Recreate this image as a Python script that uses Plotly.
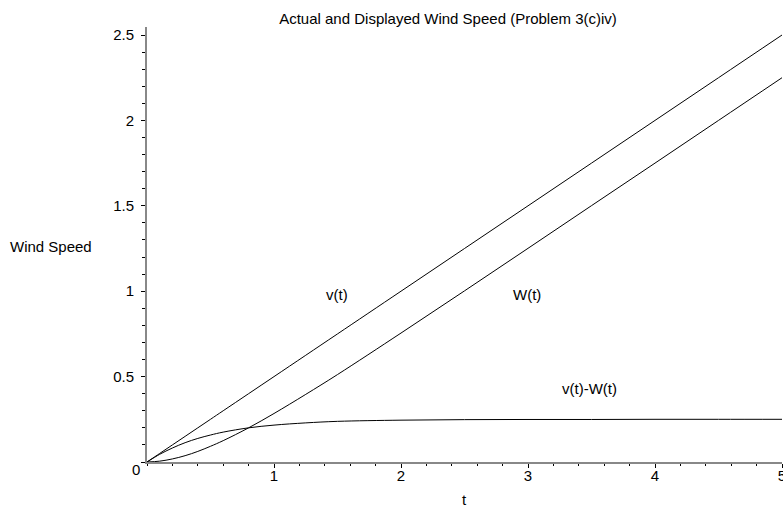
import plotly.graph_objects as go

t_vals = [0, 0.1, 0.2, 0.3, 0.4, 0.5, 0.6, 0.8, 1.0, 1.25, 1.5, 2.0, 2.5, 3.0, 3.5, 4.0, 4.5, 5.0]
v_vals = [0, 0.05, 0.1, 0.15, 0.2, 0.25, 0.3, 0.4, 0.5, 0.625, 0.75, 1.0, 1.25, 1.5, 1.75, 2.0, 2.25, 2.5]
w_vals = [0, 0.005, 0.018, 0.037, 0.062, 0.092, 0.125, 0.2, 0.284, 0.396, 0.512, 0.755, 1.002, 1.251, 1.501, 1.75, 2.0, 2.25]
d_vals = [0, 0.045, 0.082, 0.113, 0.138, 0.158, 0.175, 0.2, 0.216, 0.229, 0.238, 0.245, 0.248, 0.249, 0.249, 0.25, 0.25, 0.25]

x_ticks = [1, 2, 3, 4, 5]
y_ticks = [0, 0.5, 1, 1.5, 2, 2.5]
y_tick_labels = ["", "0.5", "1", "1.5", "2", "2.5"]

labels = [("v(t)", 1.496, 0.981), ("W(t)", 2.996, 0.981), ("v(t)-W(t)", 3.486, 0.433)]

FONT = "Liberation Sans, Arial, sans-serif"
L, R, T, B = 147, 1, 27, 46
W, H = 783, 508
PW, PH = W - L - R, H - T - B

def px(x):
    return (x - L) / PW

def py(y):
    return (H - B - y) / PH

fig = go.Figure()
for ys in (v_vals, w_vals, d_vals):
    fig.add_trace(go.Scatter(x=t_vals, y=ys, mode="lines",
                             line=dict(color="black", width=1, shape="spline"),
                             showlegend=False, hoverinfo="skip", cliponaxis=False))

for txt, x, y in labels:
    fig.add_annotation(x=x, y=y, text=txt, showarrow=False,
                       xanchor="center", yanchor="middle",
                       font=dict(family=FONT, size=15, color="black"))

fig.update_layout(
    width=W, height=H,
    margin=dict(l=L, r=R, t=T, b=B),
    paper_bgcolor="white", plot_bgcolor="white",
    font=dict(family=FONT, size=15, color="black"),
    title=dict(text="Actual and Displayed Wind Speed (Problem 3(c)iv)",
               x=448 / W, xanchor="center", y=1 - 19 / H, yanchor="middle",
               font=dict(size=15, color="black")),
    xaxis=dict(range=[0, 5], showgrid=False, zeroline=False, showline=True,
               automargin=False,
               linecolor="#888888", linewidth=2,
               tickvals=x_ticks, ticks="outside", ticklen=4, tickcolor="black",
               tickfont=dict(size=15), ticklabelstandoff=-5,
               ticklabeloverflow="allow",
               minor=dict(dtick=0.2, tick0=0, ticks="outside", ticklen=2, tickcolor="black")),
    yaxis=dict(range=[0, 2.547], showgrid=False, zeroline=False, showline=True,
               automargin=False,
               linecolor="#888888", linewidth=2,
               tickvals=y_ticks, ticktext=y_tick_labels,
               ticks="outside", ticklen=4, tickcolor="black",
               tickfont=dict(size=15), ticklabelstandoff=4,
               minor=dict(dtick=0.1, tick0=0, ticks="outside", ticklen=3, tickcolor="black")),
)

for txt, x, y in [("Wind Speed", 51, 246.5), ("t", 464, 499), ("0", 135.5, 469)]:
    fig.add_annotation(xref="paper", yref="paper", x=px(x), y=py(y), text=txt,
                       xanchor="center", yanchor="middle", showarrow=False,
                       font=dict(family=FONT, size=15, color="black"))

fig.write_html("out.html", config={"displayModeBar": False},
               post_script="document.body.style.margin='0';document.body.style.overflow='hidden';")
